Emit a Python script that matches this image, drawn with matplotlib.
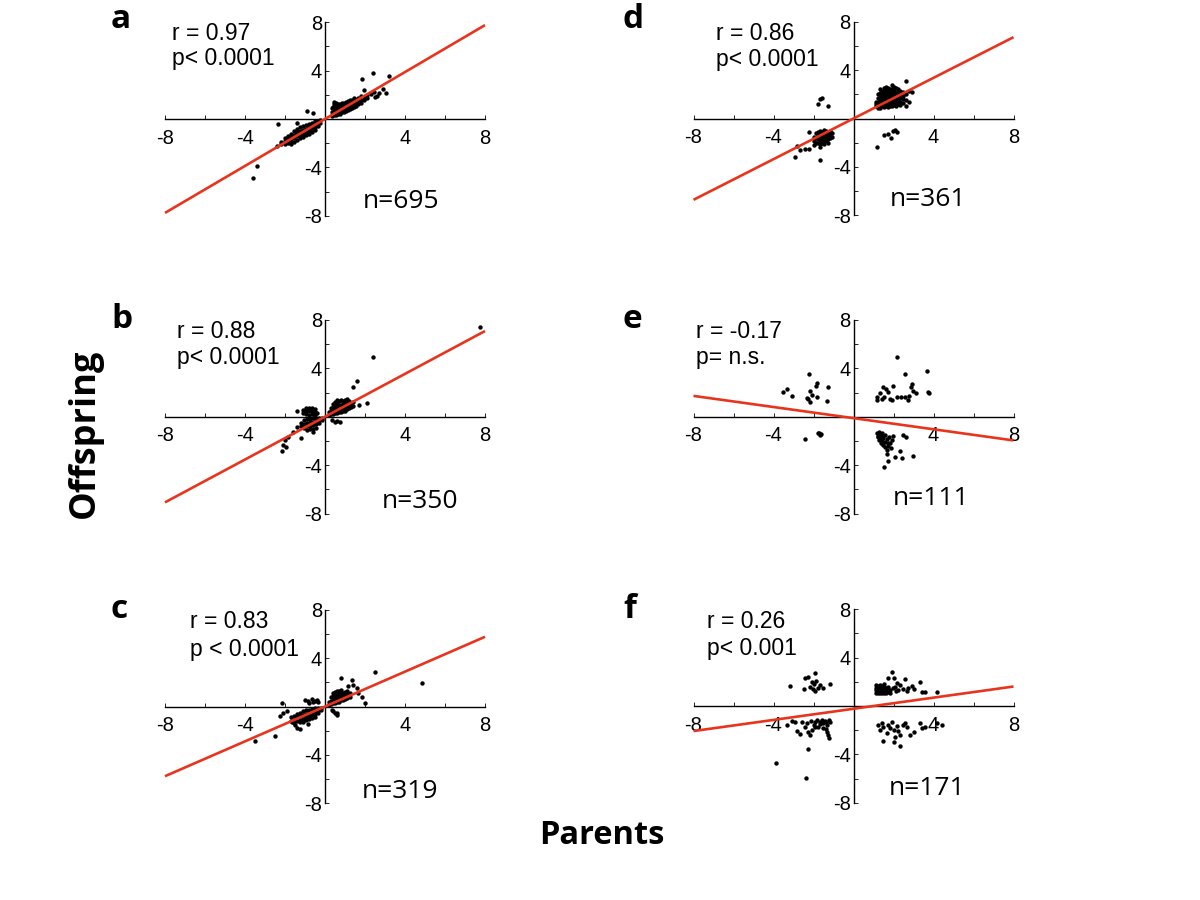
import matplotlib
matplotlib.use("Agg")
import matplotlib.pyplot as plt

# ---------------- data ----------------
# clusters given as (x, [y values]) columns; outliers as (x, y) pairs
A_COLS = [(0.35, [0.25, 0.55, 0.9]), (0.45, [0.3, 0.7, 1.2, 1.4]), (0.55, [0.35, 0.6, 0.9, 1.3]),
          (0.65, [0.4, 0.7, 1.0, 1.25]), (0.75, [0.45, 0.75, 1.05, 1.2]), (0.85, [0.55, 0.8, 1.0, 1.3]),
          (0.95, [0.6, 0.85, 1.1, 1.35]), (1.05, [0.65, 0.95, 1.2, 1.4]), (1.15, [0.75, 1.0, 1.25, 1.5]),
          (1.25, [0.8, 1.1, 1.35, 1.55]), (1.35, [0.9, 1.15, 1.4, 1.6]), (1.45, [1.0, 1.25, 1.5, 1.7]),
          (1.55, [1.1, 1.35, 1.6]), (1.65, [1.2, 1.45, 1.75]), (1.8, [1.35, 1.6, 1.9]),
          (1.95, [1.55, 1.8]), (2.1, [1.7, 2.0]), (2.3, [2.05]), (2.45, [2.2]),
          (0.4, [0.45, 1.0]), (0.5, [0.8, 1.05]), (0.6, [0.5, 1.15]), (0.7, [0.9]), (0.8, [0.65]),
          (0.9, [0.95]), (1.0, [0.75]), (1.1, [1.1]), (1.2, [0.95]), (1.3, [1.25]), (1.4, [1.05]),
          (1.5, [1.45]), (1.6, [1.3]), (1.7, [1.55]),
          (-2.2, [-1.9, -2.05]), (-2.0, [-1.6, -1.85, -2.1]), (-1.85, [-1.4, -1.7, -2.0]),
          (-1.7, [-1.2, -1.5, -1.8, -2.1]), (-1.55, [-1.0, -1.3, -1.6, -1.9]),
          (-1.4, [-0.8, -1.1, -1.4, -1.7]), (-1.25, [-0.7, -1.0, -1.3, -1.55]),
          (-1.1, [-0.6, -0.9, -1.2, -1.5]), (-0.95, [-0.5, -0.8, -1.1, -1.35]),
          (-0.8, [-0.4, -0.7, -1.0, -1.2]), (-0.65, [-0.3, -0.55, -0.85, -1.1]),
          (-0.5, [-0.2, -0.45, -0.7, -0.95]), (-0.35, [-0.15, -0.35, -0.55]), (-0.25, [-0.1, -0.3]),
          (-1.9, [-1.55]), (-1.6, [-1.45]), (-1.3, [-1.15]), (-1.0, [-0.95]), (-0.7, [-0.7]),
          (-1.15, [-1.35]), (-0.85, [-0.85]), (-1.45, [-1.25]), (-0.55, [-0.6])]
A_OUT = [(2.38, 3.83), (1.83, 3.28), (3.22, 3.55), (2.92, 2.45), (3.07, 2.12), (2.72, 2.12),
         (2.5, 1.84), (1.97, 2.4), (2.6, 1.9), (-0.92, 0.69), (-0.62, 0.52), (-2.33, -0.44),
         (-3.42, -3.88), (-3.58, -4.9), (-1.42, -0.35), (-2.4, -2.2)]

D_COLS = [(1.1, [1.0, 1.2, 1.4]), (1.2, [0.9, 1.15, 1.4, 1.7, 2.0]), (1.3, [0.9, 1.2, 1.5, 1.8, 2.1, 2.4]),
          (1.4, [1.0, 1.25, 1.5, 1.75, 2.0, 2.3]), (1.5, [0.95, 1.2, 1.45, 1.7, 1.95, 2.2, 2.5]),
          (1.6, [1.0, 1.3, 1.55, 1.8, 2.05, 2.35, 2.6]), (1.7, [0.95, 1.2, 1.5, 1.75, 2.0, 2.3, 2.5]),
          (1.8, [1.0, 1.3, 1.6, 1.9, 2.15, 2.45]), (1.9, [1.05, 1.35, 1.6, 1.85, 2.1, 2.4, 2.75]),
          (2.0, [1.1, 1.4, 1.7, 2.0, 2.3, 2.6]), (2.1, [1.0, 1.3, 1.55, 1.8, 2.1, 2.5]),
          (2.2, [1.2, 1.5, 1.8, 2.2, 2.4]), (2.3, [1.1, 1.4, 1.7, 2.0, 2.3]),
          (2.45, [1.3, 1.6, 1.9, 2.2]), (2.6, [1.0, 1.5, 2.0, 3.08]), (2.75, [1.4, 2.3]), (2.9, [2.2]),
          (-2.0, [-1.5, -1.9]), (-1.9, [-1.2, -1.6, -2.0]), (-1.8, [-1.1, -1.4, -1.7, -2.0]),
          (-1.7, [-1.0, -1.3, -1.6, -1.9, -2.1]), (-1.6, [-1.1, -1.4, -1.7, -2.0]),
          (-1.5, [-0.95, -1.25, -1.55, -1.85, -2.1]), (-1.4, [-1.0, -1.3, -1.6, -1.9]),
          (-1.3, [-1.1, -1.4, -1.7, -2.0]), (-1.2, [-1.0, -1.3, -1.6]), (-1.1, [-1.2, -1.5])]
D_OUT = [(-2.93, -3.17), (-2.84, -2.26), (-2.68, -2.58), (-2.43, -2.53), (-2.21, -2.53), (-2.21, -1.13),
         (-2.0, -2.23), (-1.7, -2.37), (-1.68, -3.44), (-1.68, 1.63), (-1.59, 1.71), (-1.76, 1.16),
         (-1.26, 1.02), (1.19, -2.37), (1.52, -1.37), (1.74, -1.32), (1.96, -1.05), (2.08, -0.97),
         (1.86, -1.6), (2.16, -1.13)]

B_COLS = [(0.2, [0.15, 0.4]), (0.3, [0.2, 0.45, 0.7]), (0.4, [0.25, 0.5, 0.8, 1.05]),
          (0.5, [0.3, 0.55, 0.85, 1.2]), (0.6, [0.3, 0.6, 0.9, 1.15, 1.4]), (0.7, [0.35, 0.65, 0.95, 1.3]),
          (0.8, [0.4, 0.7, 1.0, 1.35]), (0.9, [0.45, 0.75, 1.05, 1.3]), (1.0, [0.5, 0.8, 1.1, 1.4]),
          (1.1, [0.6, 0.9, 1.2, 1.5]), (1.2, [0.7, 1.0, 1.3]), (1.3, [0.8, 1.1]), (1.4, [0.9, 1.2]),
          (-1.1, [0.3, 0.55]), (-0.95, [0.2, 0.5, 0.75]), (-0.8, [0.15, 0.45, 0.7]),
          (-0.65, [0.2, 0.5, 0.75]), (-0.5, [0.15, 0.4, 0.65]), (-0.4, [0.3]),
          (-1.2, [-0.5, -0.8]), (-1.05, [-0.3, -0.6, -0.9]), (-0.9, [-0.2, -0.5, -0.8, -1.1]),
          (-0.75, [-0.15, -0.45, -0.75, -1.0]), (-0.6, [-0.1, -0.4, -0.7, -1.0, -1.25]),
          (-0.45, [-0.1, -0.35, -0.6, -0.9]), (-0.3, [-0.1, -0.3, -0.55]), (-0.15, [-0.1, -0.25])]
B_OUT = [(0.33, -0.27), (0.5, -0.4), (0.75, -0.46), (0.6, -0.35), (1.62, 2.98), (1.42, 2.42),
         (7.75, 7.39), (2.38, 4.96), (2.08, 1.1), (1.72, 0.97), (-1.42, -0.83), (-1.62, -1.24),
         (-1.83, -1.65), (-2.0, -1.93), (-1.22, -1.73), (-2.12, -2.34), (-1.95, -2.48),
         (-2.17, -2.84), (-1.42, 0.47)]

E_COLS = []
E_OUT = [(-3.54, 2.02), (-3.33, 2.29), (-3.06, 1.74), (-2.23, 3.53), (-2.18, 2.15), (-2.29, 1.46),
         (-2.2, 1.24), (-2.34, 1.57), (-1.84, 2.76), (-1.89, 2.54), (-1.81, 1.66), (-1.26, 2.46),
         (-1.33, 1.33), (-2.09, 1.8), (-2.43, -1.84), (-1.76, -1.37), (-1.68, -1.51), (-1.63, -1.43),
         (-1.71, -1.32), (2.19, 4.91), (2.59, 3.5), (3.69, 3.8), (3.72, 2.07), (3.75, 1.93),
         (1.19, 1.65), (1.19, 1.38), (1.33, 1.93), (1.49, 2.42), (1.63, 2.26), (1.7, 2.07),
         (1.8, 1.46), (1.99, 2.54), (1.91, 1.38), (2.16, 1.6), (2.36, 1.6), (2.58, 1.6),
         (2.74, 1.38), (2.79, 1.71), (2.91, 2.69), (2.86, 2.42), (2.96, 2.12), (3.13, 1.93),
         (1.41, 1.43), (1.54, 1.65), (1.16, -1.37), (1.24, -1.71), (1.29, -1.93), (1.36, -2.15),
         (1.46, -2.34), (1.58, -2.53), (1.66, -2.75), (1.74, -2.42), (1.83, -2.2), (1.91, -1.93),
         (1.99, -1.6), (1.58, -1.51), (1.49, -1.79), (1.66, -1.87), (1.79, -1.71), (1.33, -1.51),
         (1.41, -1.32), (2.49, -1.51), (2.61, -1.65), (1.69, -3.08), (1.74, -3.63), (1.54, -4.19),
         (2.08, -3.36), (2.33, -2.83), (2.96, -3.25), (1.86, -2.61), (2.41, -3.44), (1.2, -1.6),
         (1.3, -1.75), (1.4, -2.0), (1.55, -2.1), (1.7, -2.2), (1.25, -1.3), (1.45, -1.6)]

C_COLS = [(0.2, [0.15, 0.4]), (0.3, [0.2, 0.45, 0.75]), (0.4, [0.25, 0.55, 0.85, 1.1]),
          (0.5, [0.3, 0.6, 0.9, 1.2]), (0.6, [0.35, 0.65, 0.95, 1.3]), (0.7, [0.4, 0.7, 1.0, 1.25]),
          (0.8, [0.5, 0.8, 1.1, 1.4]), (0.9, [0.55, 0.85, 1.15]), (1.0, [0.6, 0.9, 1.2]),
          (1.1, [0.7, 1.0, 1.3]), (1.25, [0.8, 1.1]),
          (-1.7, [-0.9, -1.2]), (-1.55, [-0.8, -1.1, -1.35]), (-1.4, [-0.6, -0.9, -1.2]),
          (-1.25, [-0.5, -0.8, -1.1, -1.3]), (-1.1, [-0.4, -0.7, -1.0, -1.25]),
          (-0.95, [-0.3, -0.6, -0.9, -1.15]), (-0.8, [-0.3, -0.55, -0.8, -1.05]),
          (-0.65, [-0.2, -0.45, -0.7, -0.95]), (-0.5, [-0.15, -0.35, -0.6, -0.85]),
          (-0.35, [-0.1, -0.3, -0.5]), (-0.2, [-0.1, -0.25])]
C_OUT = [(2.5, 2.81), (0.78, 2.34), (1.33, 2.21), (1.17, 1.72), (1.42, 1.8), (1.58, 1.52), (2.0, 0.33),
         (1.67, 1.1), (1.83, 0.77), (4.87, 1.93), (0.37, -0.33), (0.42, -0.41), (0.5, -0.55),
         (0.58, -0.68), (0.62, -0.5), (-1.0, 0.5), (-0.85, 0.45), (-0.67, 0.61), (-0.5, 0.42),
         (-0.42, 0.5), (-0.6, 0.35), (-0.8, 0.3), (-0.35, 0.35), (-2.17, 0.33), (-2.08, -0.5),
         (-1.92, -0.41), (-2.25, -0.77), (-1.67, -1.24), (-1.5, -1.51), (-1.42, -1.79),
         (-1.25, -1.87), (-0.83, -1.43), (-2.5, -2.42), (-3.5, -2.89)]

F_COLS = [(1.1, [1.1, 1.3, 1.5, 1.7]), (1.2, [1.05, 1.25, 1.45, 1.65]), (1.3, [1.1, 1.3, 1.5, 1.75]),
          (1.4, [1.05, 1.25, 1.45, 1.65]), (1.5, [1.1, 1.3, 1.55, 1.8]), (1.6, [1.05, 1.25, 1.45]),
          (1.7, [1.15, 1.4, 1.6]), (1.8, [1.1, 1.35])]
F_OUT = [(-3.18, 1.65), (-2.43, 2.34), (-2.26, 2.42), (-1.93, 2.75), (-2.5, 1.37), (-2.17, 1.6),
         (-2.08, 2.0), (-2.0, 1.79), (-1.87, 2.07), (-1.8, 1.51), (-1.93, 1.24), (-2.04, 1.37),
         (-1.7, 1.74), (-1.54, 1.51), (-1.18, 1.79),
         (-3.34, -1.57), (-3.1, -1.24), (-2.93, -1.3), (-2.81, -2.07), (-2.68, -2.34), (-2.59, -1.3),
         (-2.43, -1.71), (-2.34, -1.43), (-2.26, -2.17), (-2.18, -2.39), (-2.09, -1.98), (-2.0, -1.57),
         (-1.93, -1.3), (-1.84, -1.16), (-1.76, -1.71), (-1.68, -1.3), (-1.59, -1.16), (-1.51, -1.43),
         (-1.43, -1.24), (-1.34, -1.57), (-1.31, -2.12), (-1.26, -2.39), (-1.21, -2.67), (-1.18, -1.3),
         (-1.38, -1.9), (-1.54, -1.79), (-2.26, -3.55), (-3.88, -4.68), (-2.39, -5.98),
         (-1.25, -1.15), (-1.4, -1.3), (-1.7, -1.45), (-1.95, -1.75), (-2.15, -1.25),
         (1.91, 2.84), (1.74, 2.28), (2.0, 2.28), (2.16, 1.94), (2.33, 1.72), (2.58, 2.22), (2.49, 1.4),
         (2.74, 1.52), (2.91, 1.66), (3.02, 1.4), (3.33, 2.0), (3.41, 1.19), (3.58, 1.19), (4.16, 1.19),
         (2.66, 1.24), (2.24, 1.32), (2.08, 1.6), (1.95, 1.45), (2.1, 1.25),
         (1.24, -1.57), (1.41, -1.43), (1.49, -1.71), (1.33, -1.98), (1.66, -2.26), (1.74, -1.57),
         (1.83, -1.85), (1.91, -1.3), (2.0, -1.98), (2.08, -2.53), (2.16, -1.63), (2.24, -2.07),
         (2.33, -2.39), (2.3, -3.28), (2.03, -3.0), (1.49, -2.86), (2.46, -1.57), (2.58, -1.43),
         (2.66, -1.71), (2.83, -2.39), (3.0, -2.12), (3.33, -1.43), (3.41, -1.85), (3.58, -1.71),
         (4.16, -1.4), (4.41, -1.57)]

# regression lines: slope, intercept
SLOPES = {"a": 0.97, "b": 0.885, "c": 0.72, "d": 0.84, "e": -0.23, "f": 0.23}
INTERCEPTS = {"a": 0.0, "b": 0.0, "c": 0.0, "d": 0.0, "e": -0.12, "f": -0.23}
R_TEXT = {"a": "r = 0.97", "b": "r = 0.88", "c": "r = 0.83", "d": "r = 0.86", "e": "r = -0.17", "f": "r = 0.26"}
P_TEXT = {"a": "p< 0.0001", "b": "p< 0.0001", "c": "p < 0.0001", "d": "p< 0.0001", "e": "p= n.s.", "f": "p< 0.001"}
N_TEXT = {"a": "n=695", "b": "n=350", "c": "n=319", "d": "n=361", "e": "n=111", "f": "n=171"}
TICKS = [-8, -6, -4, -2, 2, 4, 6, 8]
TICK_LABELS = ["-8", "", "-4", "", "", "4", "", "8"]

POINTS = {"a": (A_COLS, A_OUT), "b": (B_COLS, B_OUT), "c": (C_COLS, C_OUT),
          "d": (D_COLS, D_OUT), "e": (E_COLS, E_OUT), "f": (F_COLS, F_OUT)}

# ---------------- layout (pixel geometry of 1200x900 canvas) ----------------
W, H = 1200, 900
UNIT_Y = 12.1
AX_H = 16 * UNIT_Y
LAYOUT = {  # left px of x=-8, y px of zero line
    "a": (165, 119.0), "b": (165, 416.7), "c": (165, 706.5),
    "d": (693.5, 118.5), "e": (693.5, 416.7), "f": (693.5, 706.0)}
# text anchors: (x px, baseline y px)
R_POS = {"a": (172, 39.5), "b": (177, 338.5), "c": (190.5, 627.5),
         "d": (716, 40), "e": (696.5, 338.5), "f": (707, 627.5)}
P_POS = {"a": (172, 65), "b": (177, 363.5), "c": (190.5, 656),
         "d": (716, 66), "e": (696.5, 363.5), "f": (707, 654.5)}
N_POS = {"a": (363, 208), "b": (382, 507.5), "c": (362, 797.5),
         "d": (890, 206.5), "e": (893, 505), "f": (889, 795)}
L_POS = {"a": (111, 28), "b": (111, 328), "c": (111, 618),
         "d": (623, 28), "e": (623, 328), "f": (623, 618)}

RED = "#e8341c"
fig = plt.figure(figsize=(12, 9), dpi=100)

def fx(px):
    return px / W

def fy(py):
    return 1 - py / H

for key, (left_px, zero_px) in LAYOUT.items():
    ax = fig.add_axes([fx(left_px), fy(zero_px + AX_H / 2), 320 / W, AX_H / H])
    ax.set_xlim(-8, 8)
    ax.set_ylim(-8, 8)
    ax.patch.set_visible(False)
    for s in ("top", "right"):
        ax.spines[s].set_visible(False)
    ax.spines["left"].set_position(("data", 0))
    ax.spines["bottom"].set_position(("data", 0))
    for s in ("left", "bottom"):
        ax.spines[s].set_linewidth(1.0)
        ax.spines[s].set_color("black")
    ax.set_xticks(TICKS)
    ax.set_xticklabels(TICK_LABELS)
    ax.set_yticks(TICKS)
    ax.set_yticklabels(TICK_LABELS)
    ax.tick_params(axis="both", direction="in", length=3, width=0.6, colors="black",
                   labelsize=14.5)
    ax.tick_params(axis="x", pad=7)
    ax.tick_params(axis="y", pad=2)
    for lab in ax.get_xticklabels() + ax.get_yticklabels():
        lab.set_family("Liberation Sans")

    cols, outs = POINTS[key]
    xs, ys = [], []
    for cx, cys in cols:
        for cy in cys:
            xs.append(cx)
            ys.append(cy)
    for ox, oy in outs:
        xs.append(ox)
        ys.append(oy)
    ax.scatter(xs, ys, s=10, c="black", marker="o", linewidths=0, zorder=3)

    m, c0 = SLOPES[key], INTERCEPTS[key]
    ax.plot([-8, 8], [m * -8 + c0, m * 8 + c0], color=RED, lw=1.9, zorder=4,
            solid_capstyle="butt", clip_on=False)

    rx, ry = R_POS[key]
    fig.text(fx(rx), fy(ry), R_TEXT[key], fontsize=16.5, family="Liberation Sans", va="baseline")
    px_, py_ = P_POS[key]
    fig.text(fx(px_), fy(py_), P_TEXT[key], fontsize=16.5, family="Liberation Sans", va="baseline")
    nx, ny = N_POS[key]
    fig.text(fx(nx), fy(ny), N_TEXT[key], fontsize=19, family="Open Sans", va="baseline")
    lx, ly = L_POS[key]
    fig.text(fx(lx), fy(ly), key, fontsize=24, family="Open Sans", weight="bold", va="baseline")

fig.text(fx(85), fy(433), "Offspring", rotation=90, fontsize=26, family="Open Sans",
         weight="bold", ha="center", va="center")
fig.text(fx(602), fy(835), "Parents", fontsize=23.5, family="Open Sans",
         weight="bold", ha="center", va="center")

fig.savefig("out.png", dpi=100)
